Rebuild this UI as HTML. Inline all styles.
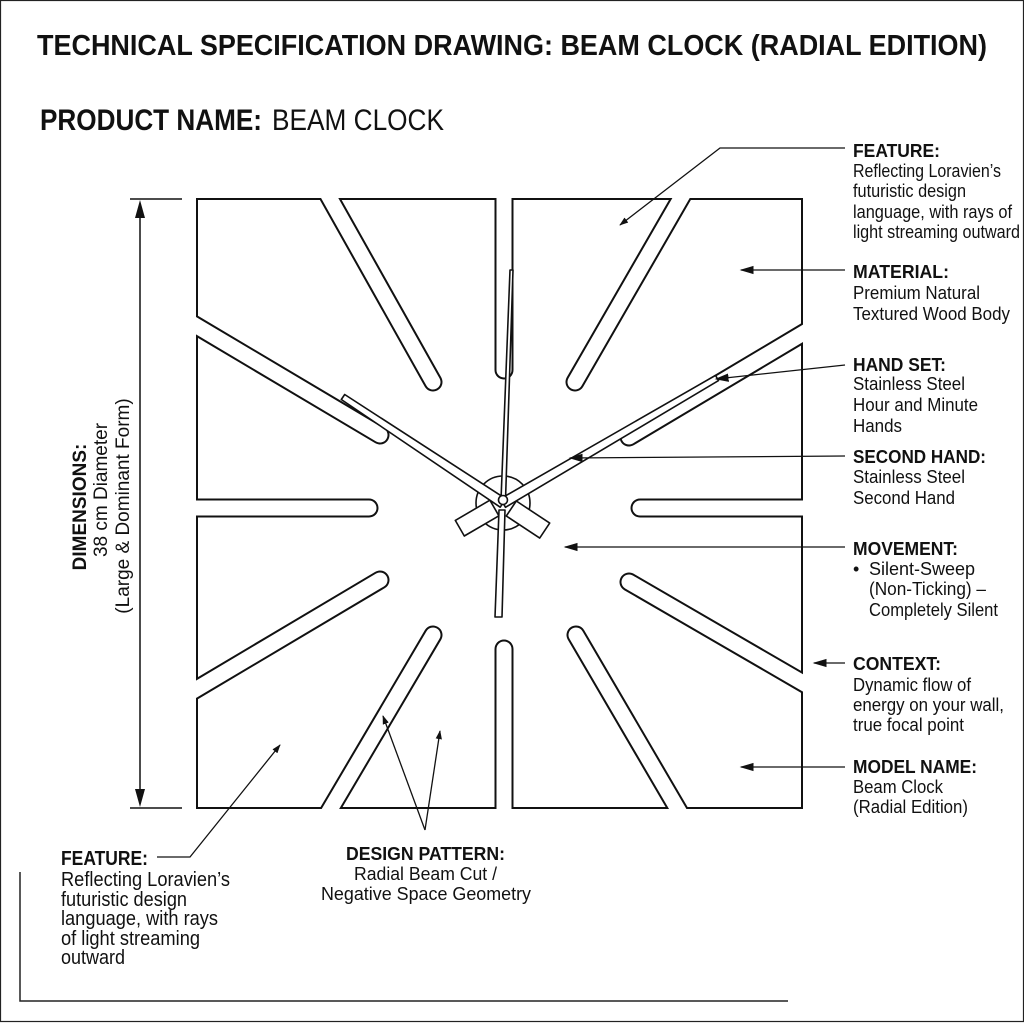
<!DOCTYPE html>
<html><head><meta charset="utf-8"><style>
html,body{margin:0;padding:0;background:#fff}
svg{display:block}
text{font-family:"Liberation Sans Narrow","Liberation Sans",sans-serif;fill:#111}
.b{font-weight:bold}
</style></head><body>
<svg width="1024" height="1024" viewBox="0 0 1024 1024" xmlns="http://www.w3.org/2000/svg">
<defs>
<marker id="ar" viewBox="0 0 10 10" refX="9" refY="5" markerWidth="9" markerHeight="9" markerUnits="userSpaceOnUse" orient="auto"><path d="M0,1.5 L10,5 L0,8.5 z" fill="#111"/></marker>
<marker id="arb" viewBox="0 0 10 10" refX="9" refY="5" markerWidth="14" markerHeight="14" markerUnits="userSpaceOnUse" orient="auto"><path d="M0,2 L10,5 L0,8 z" fill="#111"/></marker>
<clipPath id="sq"><rect x="196" y="198" width="607" height="611"/></clipPath>
</defs>
<rect x="0.5" y="0.5" width="1023" height="1021" fill="none" stroke="#222" stroke-width="1.2"/>
<polyline points="20,872 20,1001 788,1001" fill="none" stroke="#222" stroke-width="1.5"/>

<text x="37" y="55" class="b" font-size="29" textLength="950" lengthAdjust="spacingAndGlyphs">TECHNICAL SPECIFICATION DRAWING: BEAM CLOCK (RADIAL EDITION)</text>
<text x="40" y="130" class="b" font-size="30" textLength="222" lengthAdjust="spacingAndGlyphs">PRODUCT NAME:</text>
<text x="272" y="130" font-size="30" textLength="172" lengthAdjust="spacingAndGlyphs">BEAM CLOCK</text>

<rect x="197" y="199" width="605" height="609" fill="#fff" stroke="#111" stroke-width="2"/>
<g clip-path="url(#sq)" stroke-linecap="round" fill="none">
 <g stroke="#111" stroke-width="19">
  <line x1="504" y1="370" x2="504" y2="150"/>
  <line x1="504" y1="649" x2="504" y2="860"/>
  <line x1="369" y1="508" x2="150" y2="508"/>
  <line x1="640" y1="508" x2="850" y2="508"/>
  <line x1="433" y1="382" x2="319" y2="179"/>
  <line x1="575" y1="382" x2="692" y2="179"/>
  <line x1="380" y1="435" x2="178" y2="315"/>
  <line x1="629" y1="437" x2="822" y2="322"/>
  <line x1="380" y1="580" x2="178" y2="700"/>
  <line x1="629" y1="582" x2="822" y2="694"/>
  <line x1="433" y1="635" x2="318" y2="830"/>
  <line x1="576" y1="635" x2="690" y2="830"/>
 </g>
 <g stroke="#fff" stroke-width="15">
  <line x1="504" y1="370" x2="504" y2="150"/>
  <line x1="504" y1="649" x2="504" y2="860"/>
  <line x1="369" y1="508" x2="150" y2="508"/>
  <line x1="640" y1="508" x2="850" y2="508"/>
  <line x1="433" y1="382" x2="319" y2="179"/>
  <line x1="575" y1="382" x2="692" y2="179"/>
  <line x1="380" y1="435" x2="178" y2="315"/>
  <line x1="629" y1="437" x2="822" y2="322"/>
  <line x1="380" y1="580" x2="178" y2="700"/>
  <line x1="629" y1="582" x2="822" y2="694"/>
  <line x1="433" y1="635" x2="318" y2="830"/>
  <line x1="576" y1="635" x2="690" y2="830"/>
 </g>
</g>
<g fill="#fff" stroke="#111" stroke-width="1.6" stroke-linejoin="round">
 <circle cx="503" cy="503" r="27"/>
 <polygon points="516.3,501 549.7,523.1 539.7,538.1 506.3,516"/>
 <polygon points="489.9,500.2 455.3,520.4 464.3,536 498.9,515.8"/>
 <polygon points="341.3,399.5 344.7,394.5 505.8,498.8 500.2,507.2"/>
 <polygon points="715.5,375.4 718.5,380.6 505.5,507.3 500.5,498.7"/>
 <polygon points="510,270 513,270 505.5,500 501,500"/>
 <polygon points="499,510 505,510 502,617 495,617"/>
 <circle cx="503" cy="500" r="4.5"/>
</g>

<g stroke="#111" stroke-width="1.5" fill="none">
 <line x1="130" y1="199" x2="182" y2="199"/>
 <line x1="130" y1="808" x2="182" y2="808"/>
 <line x1="140" y1="215" x2="140" y2="792"/>
</g>
<path d="M140,200 L135,218 L145,218 z M140,807 L135,789 L145,789 z" fill="#111"/>
<g transform="translate(86,507) rotate(-90)">
 <text x="0" y="0" class="b" font-size="19" text-anchor="middle">DIMENSIONS:</text>
</g>
<g transform="translate(107,490) rotate(-90)">
 <text x="0" y="0" font-size="19" text-anchor="middle">38 cm Diameter</text>
</g>
<g transform="translate(129,506) rotate(-90)">
 <text x="0" y="0" font-size="19" text-anchor="middle">(Large &amp; Dominant Form)</text>
</g>

<g stroke="#111" stroke-width="1.3" fill="none">
 <polyline points="845,148 720,148 620,225" marker-end="url(#ar)"/>
 <line x1="845" y1="270" x2="741" y2="270" marker-end="url(#arb)"/>
 <line x1="845" y1="365" x2="716" y2="379" marker-end="url(#arb)"/>
 <line x1="845" y1="456" x2="570" y2="458" marker-end="url(#arb)"/>
 <line x1="845" y1="547" x2="565" y2="547" marker-end="url(#arb)"/>
 <line x1="845" y1="663" x2="814" y2="663" marker-end="url(#arb)"/>
 <line x1="845" y1="767" x2="741" y2="767" marker-end="url(#arb)"/>
 <polyline points="157,857 190,857 280,745" marker-end="url(#ar)"/>
 <line x1="425" y1="830" x2="383" y2="716" marker-end="url(#ar)"/>
 <line x1="425" y1="830" x2="440" y2="731" marker-end="url(#ar)"/>
</g>

<g font-size="18">
 <text x="853" y="157" class="b" textLength="87" lengthAdjust="spacingAndGlyphs">FEATURE:</text>
 <text x="853" y="177" textLength="148" lengthAdjust="spacingAndGlyphs">Reflecting Loravien’s</text>
 <text x="853" y="197" textLength="113" lengthAdjust="spacingAndGlyphs">futuristic design</text>
 <text x="853" y="218" textLength="159" lengthAdjust="spacingAndGlyphs">language, with rays of</text>
 <text x="853" y="238" textLength="167" lengthAdjust="spacingAndGlyphs">light streaming outward</text>

 <text x="853" y="278" class="b" textLength="96" lengthAdjust="spacingAndGlyphs">MATERIAL:</text>
 <text x="853" y="299" textLength="127" lengthAdjust="spacingAndGlyphs">Premium Natural</text>
 <text x="853" y="320" textLength="157" lengthAdjust="spacingAndGlyphs">Textured Wood Body</text>

 <text x="853" y="371" class="b" textLength="93" lengthAdjust="spacingAndGlyphs">HAND SET:</text>
 <text x="853" y="390" textLength="112" lengthAdjust="spacingAndGlyphs">Stainless Steel</text>
 <text x="853" y="411" textLength="125" lengthAdjust="spacingAndGlyphs">Hour and Minute</text>
 <text x="853" y="432" textLength="49" lengthAdjust="spacingAndGlyphs">Hands</text>

 <text x="853" y="463" class="b" textLength="133" lengthAdjust="spacingAndGlyphs">SECOND HAND:</text>
 <text x="853" y="483" textLength="112" lengthAdjust="spacingAndGlyphs">Stainless Steel</text>
 <text x="853" y="504" textLength="102" lengthAdjust="spacingAndGlyphs">Second Hand</text>

 <text x="853" y="555" class="b" textLength="105" lengthAdjust="spacingAndGlyphs">MOVEMENT:</text>
 <text x="853" y="575">•</text>
 <text x="869" y="575">Silent-Sweep</text>
 <text x="869" y="595" textLength="117" lengthAdjust="spacingAndGlyphs">(Non-Ticking) –</text>
 <text x="869" y="616" textLength="129" lengthAdjust="spacingAndGlyphs">Completely Silent</text>

 <text x="853" y="670" class="b" textLength="88" lengthAdjust="spacingAndGlyphs">CONTEXT:</text>
 <text x="853" y="691" textLength="118" lengthAdjust="spacingAndGlyphs">Dynamic flow of</text>
 <text x="853" y="711" textLength="151" lengthAdjust="spacingAndGlyphs">energy on your wall,</text>
 <text x="853" y="731" textLength="111" lengthAdjust="spacingAndGlyphs">true focal point</text>

 <text x="853" y="773" class="b" textLength="124" lengthAdjust="spacingAndGlyphs">MODEL NAME:</text>
 <text x="853" y="793" textLength="90" lengthAdjust="spacingAndGlyphs">Beam Clock</text>
 <text x="853" y="813" textLength="115" lengthAdjust="spacingAndGlyphs">(Radial Edition)</text>

 <text x="346" y="860" class="b" textLength="159" lengthAdjust="spacingAndGlyphs">DESIGN PATTERN:</text>
 <text x="354" y="880" textLength="143" lengthAdjust="spacingAndGlyphs">Radial Beam Cut /</text>
 <text x="321" y="900" textLength="210" lengthAdjust="spacingAndGlyphs">Negative Space Geometry</text>
</g>
<g font-size="20">
 <text x="61" y="865" class="b" textLength="87" lengthAdjust="spacingAndGlyphs">FEATURE:</text>
 <text x="61" y="886" textLength="169" lengthAdjust="spacingAndGlyphs">Reflecting Loravien’s</text>
 <text x="61" y="906" textLength="126" lengthAdjust="spacingAndGlyphs">futuristic design</text>
 <text x="61" y="925" textLength="157" lengthAdjust="spacingAndGlyphs">language, with rays</text>
 <text x="61" y="945" textLength="139" lengthAdjust="spacingAndGlyphs">of light streaming</text>
 <text x="61" y="964" textLength="64" lengthAdjust="spacingAndGlyphs">outward</text>
</g>
</svg>
</body></html>
